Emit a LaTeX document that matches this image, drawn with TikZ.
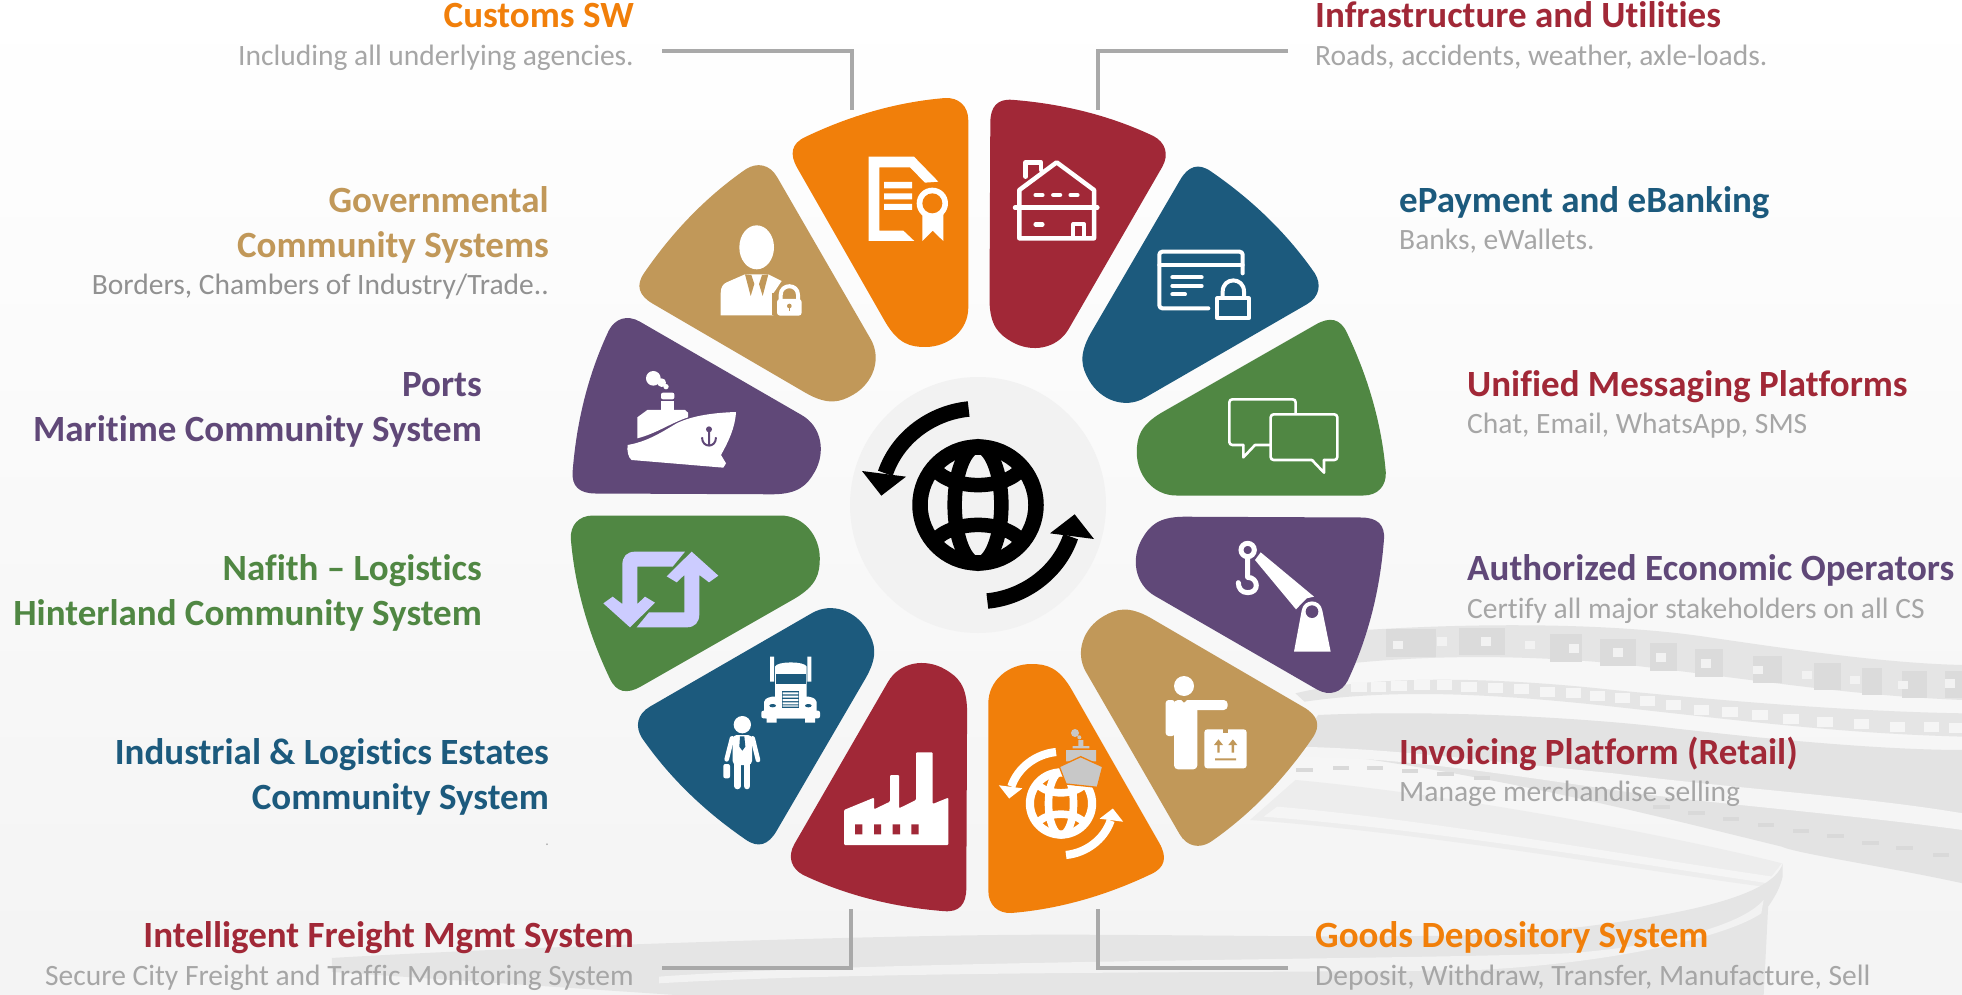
\documentclass[tikz,border=0pt]{standalone}
\usepackage{fontspec}
\setmainfont[Ligatures=NoCommon]{Carlito}
\definecolor{cOr}{HTML}{F17F0A}
\definecolor{cRe}{HTML}{A12837}
\definecolor{cBl}{HTML}{1C5A7D}
\definecolor{cGr}{HTML}{508743}
\definecolor{cPu}{HTML}{604878}
\definecolor{cTa}{HTML}{C19859}
\definecolor{cSub}{HTML}{A6A6A6}
\definecolor{cLine}{HTML}{A9A9A9}
\definecolor{cLav}{HTML}{CCCCFF}
\definecolor{cShip}{HTML}{C8C8C8}
\tikzset{
  ttl/.style={inner sep=0pt,font=\fontsize{37}{40}\selectfont\bfseries},
  sbt/.style={inner sep=0pt,text=cSub,font=\fontsize{29.5}{34}\selectfont},
  conn/.style={draw=cLine,line width=3.6pt},
  zoomat/.style 2 args={shift={(#1,#2)},x=0.33333pt,y=-0.33333pt},
  wline/.style={draw=white,fill=none,line cap=round,line join=round},
}
\newcommand{\panelshape}{%
  (-10,-198) -- (-10,-385) .. controls (-10,-400) and (-20,-408) .. (-33,-407.5)
  .. controls (-82,-403.5) and (-129,-389.5) .. (-173,-368.5)
  .. controls (-187,-362) and (-189,-351.5) .. (-181,-337.5)
  -- (-93,-183.5) .. controls (-80,-161.5) and (-68,-158.5) .. (-53,-158.5)
  .. controls (-30,-158.5) and (-10,-175) .. cycle}
% #1,#2 centre, #3 scale, #4 colour, #5 ring and arrow width, #6 grid width
\newcommand{\globeicon}[6]{%
  \begin{scope}[shift={(#1,#2)},x=#3pt,y=-#3pt,shift={(-408,-400)}]
    \draw[#4,line width=#5] (408,400) circle[radius=174];
    \draw[#4,line width=#6] (408,400) circle[x radius=70,y radius=176];
    \draw[#4,line width=#6] (275,290) .. controls (330,357) and (486,357) .. (541,290);
    \draw[#4,line width=#6] (275,510) .. controls (330,443) and (486,443) .. (541,510);
    \foreach \r in {0,180}{
      \begin{scope}[rotate around={\r:(408,400)}]
        \draw[#4,line width=#5] (380,112) .. controls (268,123) and (166.5,198) .. (130,305);
        \fill[#4] (118,372) -- (60,298) -- (192,315) -- cycle;
      \end{scope}}
  \end{scope}}
\begin{document}
\begin{tikzpicture}[x=1pt,y=-1pt]
\useasboundingbox (0,0) rectangle (1962,995);
\begin{scope}
\clip (0,0) rectangle (1962,995);
\shade[top color=white,bottom color=white!95.5!black] (0,0) rectangle (1962,995);
%-- ghost stadium
\begin{scope}[shift={(1250,600)},x=0.4545pt,y=-0.3333pt]
  \fill[white!90!black] (200,95) .. controls (500,65) and (800,70) .. (1000,110) .. controls (1200,150) and (1400,190) .. (1568,195) -- (1568,300) .. controls (1300,285) and (1100,235) .. (800,190) .. controls (600,165) and (400,165) .. (220,190) -- cycle;
  \foreach \xa/\ya/\wa in {355/130/55,510/125/50,695/145/35,810/158/40,910/172/30,1010/190/30,1138/210/32,1270/230/30,1368/245/22,1462/255/27,1550/255/20}
    \fill[white!86!black] (\xa-\wa,\ya-42) rectangle (\xa+\wa,\ya+40);
  \foreach \xa/\ya in {325/135,422/125,520/125,617/135,712/145,810/158,905/172,1003/190,1118/210,1225/225,1330/240,1437/255,1540/250}
    \fill[white!95!black] (\xa-11,\ya-13) rectangle (\xa+11,\ya+13);
  \fill[white!90!black] (100,280) .. controls (250,230) and (500,225) .. (800,270) .. controls (1100,310) and (1350,335) .. (1568,340) -- (1568,410) .. controls (1300,400) and (1100,365) .. (800,320) .. controls (500,275) and (300,270) .. (120,305) -- cycle;
  \foreach \xa/\ya in {240/262,283/260,328/258,378/256,428/256,482/260,540/264,597/268,655/275,712/280,765/288,820/295,875/303,932/315,993/330,1056/335,1122/345,1190/358,1265/365,1345/372,1425/380,1500/382,1555/385}
    \fill[white!96!black] (\xa-17,\ya-15) rectangle (\xa+17,\ya+15);
  \fill[white!89!black] (150,345) .. controls (400,330) and (700,350) .. (900,380) .. controls (1150,420) and (1400,450) .. (1568,450) -- (1568,850) .. controls (1400,800) and (1200,760) .. (1170,740) .. controls (900,650) and (500,510) .. (100,450) -- cycle;
  \fill[white!96!black] (100,440) .. controls (300,445) and (500,480) .. (800,520) .. controls (1100,570) and (1350,590) .. (1568,640) -- (1568,690) .. controls (1300,640) and (1000,610) .. (800,570) .. controls (500,510) and (300,470) .. (100,470) -- cycle;
  \foreach \xa/\ya in {120/510,200/503,275/503,352/512,430/522,510/535,905/622,982/640,1058/658,1135/675,1212/692,1288/708,1365/730,1440/745,1520/765}
    \fill[white!85!black] (\xa-18,\ya-6) rectangle (\xa+18,\ya+6);
  % sweeping stripes
  \fill[white!93!black] (0,660) .. controls (400,700) and (900,820) .. (1130,860) -- (1170,790) .. controls (1000,730) and (500,590) .. (100,540) -- cycle;
  \fill[white!96!black] (60,620) .. controls (400,660) and (800,760) .. (1150,830) -- (1140,850) .. controls (800,780) and (400,690) .. (30,650) -- cycle;
  % loop and bottom band
  \fill[white!90!black] (-2020,1074) .. controls (-1600,1040) and (-900,1010) .. (-550,1005) .. controls (-200,1000) and (300,1020) .. (600,1000) .. controls (900,960) and (1150,900) .. (1172,790) -- (1172,830) .. controls (1165,870) and (1150,900) .. (1140,920) -- (1130,1190) -- (-1210,1190) -- (-2020,1116) -- cycle;
  \fill[white!95!black] (-1300,1130) .. controls (-800,1080) and (300,1080) .. (700,1060) .. controls (900,1040) and (1080,980) .. (1130,900) -- (1125,940) .. controls (1050,1010) and (800,1090) .. (500,1110) .. controls (100,1120) and (-800,1110) .. (-1300,1150) -- cycle;
\end{scope}
\end{scope}
%-- centre disc
\fill[white!95!black] (978,505) circle[radius=128];
\globeicon{978}{505}{0.33333}{black}{15.5pt}{14.5pt}
%-- panels
\foreach \k/\c in {0/cOr,-1/cRe,-2/cBl,-3/cGr,-4/cPu,-5/cTa,-6/cOr,-7/cRe,-8/cBl,-9/cGr,-10/cPu,-11/cTa}{
  \fill[\c,shift={(978.3,505.5)},rotate=\k*30] \panelshape;
}
%-- icons, upper-left group
\begin{scope}[zoomat={560}{80}]
  % certificate
  \fill[white] (926,230) -- (1062,230) -- (1135,305) -- (1095,308) -- (1050,262) -- (958,262) -- (958,452) -- (1030,452) -- (1063,483) -- (926,483) -- cycle;
  \fill[white] (972,306) rectangle (1056,325) (972,340) rectangle (1056,358) (972,372) rectangle (1056,390);
  \fill[white] (1087,395) -- (1087,483) -- (1118,452) -- (1150,483) -- (1150,395) -- cycle;
  \fill[white] (1117,370) circle[radius=47];
  \fill[cOr] (1117,370) circle[radius=30];
  % official with padlock
  \fill[white] (590,502) circle[x radius=52,y radius=66];
  \fill[white] (482,706) -- (482,640) .. controls (482,620) and (490,612) .. (500,607) -- (555,583) -- (625,583) -- (665,603) -- (640,640) -- (640,706) -- cycle;
  \fill[cTa] (555,583) -- (572,648) -- (583,612) -- (574,585) -- cycle;
  \fill[cTa] (625,583) -- (608,648) -- (597,612) -- (606,585) -- cycle;
  \draw[cTa,line width=3pt] (640,706) -- (640,640);
  \draw[white,line width=4pt] (662,660) -- (662,645) .. controls (662,610) and (714,610) .. (714,645) -- (714,660);
  \fill[white,rounded corners=3pt] (651,657) rectangle (725,707);
  \fill[cTa] (688,678) circle[radius=7];
  \fill[cTa] (685.5,678) rectangle (690.5,693);
  % ship
  \fill[white] (280,895) circle[radius=22] (305,908) circle[radius=13] (318,920) circle[radius=8];
  \fill[white,rounded corners=2pt] (303,938) rectangle (343,958);
  \fill[white] (303,964) rectangle (343,995);
  \fill[white] (232,1075) -- (232,1012) -- (262,990) -- (375,990) -- (384,998) -- (384,1012) .. controls (330,1030) and (290,1060) .. (232,1075) -- cycle;
  \fill[white] (203,1095) .. controls (260,1085) and (300,1060) .. (350,1030) .. controls (400,1005) and (470,998) .. (528,996) .. controls (525,1045) and (505,1085) .. (483,1125) -- (498,1150) -- (490,1163) -- (215,1140) .. controls (205,1135) and (200,1110) .. (203,1095) -- cycle;
  \fill[cPu] (447,1048) circle[radius=9];
  \draw[cPu,line width=2pt] (447,1050) -- (447,1098) (426,1072) .. controls (426,1105) and (468,1105) .. (468,1072);
\end{scope}
%-- icons, upper-right group
\begin{scope}[zoomat={960}{80}]
  % house
  \draw[wline,line width=4.5pt] (178,330) -- (290,247) -- (402,330) -- (402,475) -- (178,475) -- cycle;
  \draw[wline,line width=4.5pt] (165,383) -- (412,383);
  \draw[wline,line width=4.5pt] (197,290) -- (197,247) -- (243,247) -- (243,270);
  \draw[wline,line width=4.5pt] (227,345) -- (247,345) (280,345) -- (300,345) (332,345) -- (352,345) (227,433) -- (247,433);
  \draw[wline,line width=4pt,line cap=butt] (340,475) -- (340,432) -- (372,432) -- (372,475);
  % card with padlock
  \draw[wline,line width=4pt,rounded corners=3pt] (745,685) -- (598,685) -- (598,515) -- (848,515) -- (848,580);
  \draw[wline,line width=4pt] (598,555) -- (848,555);
  \draw[wline,line width=4pt] (637,592) -- (725,592) (637,618) -- (725,618) (637,643) -- (675,643);
  \draw[wline,line width=4pt,line cap=butt] (772,655) rectangle (866,715);
  \draw[wline,line width=4pt,line cap=butt] (788,655) -- (788,635) .. controls (788,590) and (852,590) .. (852,635) -- (852,655);
  % chat
  \draw[wline,line width=2.6pt,rounded corners=3pt] (1007,1000) -- (1007,958) -- (808,958) -- (808,1095) -- (850,1095);
  \draw[wline,line width=2.6pt] (850,1095) -- (850,1132) -- (885,1095) -- (932,1095);
  \draw[wline,line width=2.6pt,rounded corners=3pt] (1056,1140) -- (932,1140) -- (932,1003) -- (1132,1003) -- (1132,1140) -- (1092,1140);
  \draw[wline,line width=2.6pt] (1056,1140) -- (1092,1178) -- (1092,1140);
\end{scope}
%-- icons, lower-left group
\begin{scope}[zoomat={560}{500}]
  % retweet arrows
  \foreach \r in {0,180}{
    \begin{scope}[rotate around={\r:(302.5,268.5)}]
      \fill[cLav] (375,155) -- (225,155) .. controls (200,155) and (187,170) .. (187,195) -- (187,312) -- (158,290) -- (130,310) -- (210,382) -- (285,308) -- (255,290) -- (232,312) -- (232,200) -- (338,200) -- cycle;
    \end{scope}}
  % truck
  \fill[white] (630,470) rectangle (642,545) (742,470) rectangle (754,545);
  \fill[white] (645,600) -- (645,500) .. controls (650,483) and (735,483) .. (740,500) -- (740,600) -- cycle;
  \fill[cBl] (647,522) rectangle (737,552);
  \fill[white,rounded corners=2pt] (612,655) -- (612,600) -- (630,590) -- (752,590) -- (770,600) -- (770,655) -- cycle;
  \fill[white,rounded corners=2pt] (604,632) rectangle (780,655);
  \fill[white] (620,650) rectangle (650,668) (735,650) rectangle (765,668);
  \fill[cBl] (665,573) rectangle (718,623);
  \fill[white] (668,577) rectangle (715,583) (668,587) rectangle (715,593) (668,597) rectangle (715,603) (668,607) rectangle (715,613) (668,616) rectangle (715,620);
  \fill[cBl] (638,617) circle[x radius=10,y radius=5] (745,617) circle[x radius=10,y radius=5];
  % businessman
  \fill[white] (547,674) circle[radius=26];
  \fill[white,rounded corners=4pt] (518,705) rectangle (576,795);
  \draw[wline,line width=4.6pt] (516,715) -- (500,778) (578,715) -- (594,780);
  \draw[wline,line width=6.6pt] (532,790) -- (532,858) (561,790) -- (561,858);
  \fill[white,rounded corners=2pt] (490,792) rectangle (510,835);
  \fill[cBl] (540,709) -- (553,709) -- (556,740) -- (547,752) -- (538,740) -- cycle;
  % factory
  \fill[white,rounded corners=1pt] (852,1035) -- (852,930) -- (942,893) -- (942,928) -- (990,905) -- (990,825) -- (1017,825) -- (1017,925) -- (1068,900) -- (1068,757) -- (1118,757) -- (1118,912) -- (1165,893) -- (1165,1035) -- cycle;
  \fill[cRe] (885,973) rectangle (907,1003) (942,973) rectangle (963,1003) (998,973) rectangle (1020,1003) (1054,973) rectangle (1076,1003);
\end{scope}
%-- icons, lower-right group
\begin{scope}[zoomat={960}{500}]
  % crane
  \draw[white,line width=5pt] (863,150) circle[radius=20];
  \draw[wline,line width=5pt] (863,172) -- (863,232) .. controls (895,232) and (900,278) .. (863,278) .. controls (845,278) and (835,265) .. (835,248);
  \fill[white] (902,157) -- (1062,290) -- (1040,295) -- (1008,328) -- (885,180) -- cycle;
  \fill[cPu] (1056,335) circle[radius=38];
  \fill[white] (1002,455) -- (1025,332) .. controls (1030,295) and (1082,295) .. (1087,332) -- (1112,455) -- cycle;
  \fill[cPu] (1056,335) circle[radius=19];
  % man with parcel
  \fill[white] (672,558) circle[radius=30];
  \fill[white,rounded corners=3pt] (617,600) rectangle (645,708);
  \fill[white,rounded corners=4pt] (642,600) rectangle (712,808);
  \fill[white,rounded corners=4pt] (690,600) rectangle (803,630);
  \fill[cTa] (660,596) -- (685,596) -- (672,608) -- cycle;
  \fill[white,rounded corners=3pt] (733,688) rectangle (860,805);
  \fill[cTa] (790,688) rectangle (803,700);
  \fill[cTa] (772,758) rectangle (779,730) (815,758) rectangle (822,730) (765,775) rectangle (828,781);
  \fill[cTa] (762,735) -- (775.5,718) -- (789,735) -- cycle (805,735) -- (818.5,718) -- (832,735) -- cycle;
\end{scope}
\globeicon{1061}{803.5}{0.1787}{white}{8.2pt}{7.6pt}
\begin{scope}[zoomat={960}{500}]
  \fill[cShip] (345,699) circle[radius=12] (358,712) circle[radius=6];
  \fill[cShip] (355,720) rectangle (370,740) (338,738) rectangle (388,745) (318,750) rectangle (408,784);
  \fill[cShip,draw=cOr,line width=1.3pt] (298,800) -- (362,770) -- (428,800) -- (412,862) -- (318,852) -- cycle;
\end{scope}
%-- labels, left column
\node[ttl,anchor=base east,text=cOr] (tCus) at (634,28) {Customs SW};
\node[sbt,anchor=base east] (sCus) at (634,66) {Including all underlying agencies.};
\node[ttl,anchor=base east,text=cTa] (tGov) at (549,212) {Governmental};
\node[ttl,anchor=base east,text=cTa] (tGov2) at (549,257) {Community Systems};
\node[sbt,anchor=base east,text=white!57!black] (sGov) at (549,294) {Borders, Chambers of Industry/Trade..};
\node[ttl,anchor=base east,text=cPu] (tPor) at (482,396) {Ports};
\node[ttl,anchor=base east,text=cPu] (tPor2) at (482,441) {Maritime Community System};
\node[ttl,anchor=base east,text=cGr] (tNaf) at (482,580) {Nafith – Logistics};
\node[ttl,anchor=base east,text=cGr] (tNaf2) at (482,625) {Hinterland Community System};
\node[ttl,anchor=base east,text=cBl] (tInd) at (549,764) {Industrial \& Logistics Estates};
\node[ttl,anchor=base east,text=cBl] (tInd2) at (549,809) {Community System};
\node[sbt,anchor=base east,font=\fontsize{14}{16}\selectfont] (sInd) at (549,845) {.};
\node[ttl,anchor=base east,text=cRe] (tInt) at (634,947) {Intelligent Freight Mgmt System};
\node[sbt,anchor=base east] (sInt) at (634,985) {Secure City Freight and Traffic Monitoring System};
%-- labels, right column
\node[ttl,anchor=base west,text=cRe] (tInf) at (1315,28) {Infrastructure and Utilities};
\node[sbt,anchor=base west] (sInf) at (1315,66) {Roads, accidents, weather, axle-loads.};
\node[ttl,anchor=base west,text=cBl] (tEpa) at (1399,212) {ePayment and eBanking};
\node[sbt,anchor=base west] (sEpa) at (1399,250) {Banks, eWallets.};
\node[ttl,anchor=base west,text=cRe] (tUni) at (1467,396) {Unified Messaging Platforms};
\node[sbt,anchor=base west] (sUni) at (1467,433) {Chat, Email, WhatsApp, SMS};
\node[ttl,anchor=base west,text=cPu] (tAut) at (1467,580) {Authorized Economic Operators};
\node[sbt,anchor=base west] (sAut) at (1467,618) {Certify all major stakeholders on all CS};
\node[ttl,anchor=base west,text=cRe] (tInv) at (1399,764) {Invoicing Platform (Retail)};
\node[sbt,anchor=base west] (sInv) at (1399,801) {Manage merchandise selling};
\node[ttl,anchor=base west,text=cOr] (tGoo) at (1315,947) {Goods Depository System};
\node[sbt,anchor=base west] (sGoo) at (1315,985) {Deposit, Withdraw, Transfer, Manufacture, Sell};
%-- connectors
\coordinate (pTL) at (852,110);
\coordinate (pTR) at (1098,110);
\coordinate (pBL) at (851,909);
\coordinate (pBR) at (1098,909);
\coordinate (eTL) at (662,51);
\coordinate (eTR) at (1288,51);
\coordinate (eBL) at (662,968);
\coordinate (eBR) at (1288,968);
\draw[conn] (eTL) -| (pTL);
\draw[conn] (eTR) -| (pTR);
\draw[conn] (eBL) -| (pBL);
\draw[conn] (eBR) -| (pBR);
\end{tikzpicture}
\end{document}
